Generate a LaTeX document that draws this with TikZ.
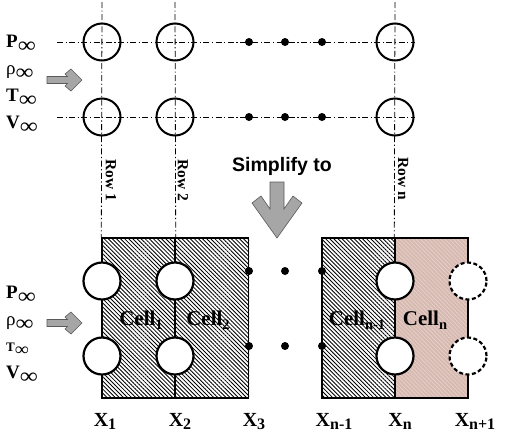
\documentclass[tikz,border=0pt]{standalone}
\usepackage{fontspec}
\usepackage{graphicx}
\setmainfont{Liberation Serif}
\newfontfamily\arialf{Liberation Sans}
\usetikzlibrary{patterns.meta}
\definecolor{pinkc}{RGB}{214,185,177}
\definecolor{pinkl}{RGB}{228,206,199}
\definecolor{arrowg}{RGB}{166,166,166}
\definecolor{arrowe}{RGB}{90,90,90}
\newcommand\fs[1]{\fontsize{#1}{#1}\selectfont}
\newcommand\sinf{\raisebox{-5.5pt}{\mdseries\fs{22}\scalebox{1.15}[1]{∞}}}
\newcommand\ssinf{\raisebox{-4.5pt}{\mdseries\fs{18}\scalebox{1.1}[1]{∞}}}
\newcommand\bsub[1]{\raisebox{-3.5pt}{\fs{16}#1}}
\newcommand\csub[1]{\raisebox{-4pt}{\fs{14.5}#1}}
\begin{document}
\begin{tikzpicture}[x=1pt,y=-1pt,
  dashdot/.style={line width=0.8pt, dash pattern=on 6pt off 2.5pt on 1.2pt off 2.5pt},
  topcirc/.style={circle, draw, line width=2pt, minimum size=37pt, inner sep=0pt},
  botcirc/.style={circle, draw, fill=white, line width=2.2pt, minimum size=37pt, inner sep=0pt},
  ghostcirc/.style={botcirc, dash pattern=on 4pt off 2.5pt},
  dotn/.style={circle, fill=black, minimum size=8pt, inner sep=0pt},
  lbl/.style={anchor=base west, inner sep=0pt, font=\bfseries\fs{19}},
  cellt/.style={anchor=base, inner sep=0pt, font=\bfseries\fs{21}},
  xt/.style={anchor=base, inner sep=0pt, font=\bfseries\fs{20}},
  rowt/.style={rotate=-90, inner sep=0pt, font=\bfseries\fs{15.5}},
  hatch/.style={pattern={Lines[angle=-45,distance=2.9pt,line width=0.85pt]}},
  cellbox/.style={rectangle, draw, line width=1.4pt, minimum width=73pt, minimum height=160pt, inner sep=0pt},
  fatarrow/.style={fill=arrowg, draw=arrowe, line width=0.6pt, line join=miter}
]
\useasboundingbox (0,0) rectangle (505,434);
\fill[white] (0,0) rectangle (505,434);

% ---------- top part ----------
\coordinate (h1a) at (57,42);  \coordinate (h1b) at (415,42);
\coordinate (h2a) at (57,117); \coordinate (h2b) at (415,117);
\coordinate (v1t) at (102,2); \coordinate (v2t) at (175,2); \coordinate (vnt) at (395,2);

% ---------- bottom boxes ----------
\path[hatch] (102,238) rectangle (249,398);
\path[hatch] (322,238) rectangle (395,398);
\fill[pinkc] (395,238) rectangle (468,398);
\path[pattern={Lines[angle=-45,distance=2.9pt,line width=0.85pt]}, pattern color=pinkl] (395,238) rectangle (468,398);
\node[cellbox] (c1) at (138.5,318) {};
\node[cellbox] (c2) at (212,318) {};
\node[cellbox] (cm) at (358.5,318) {};
\node[cellbox] (cn) at (431.5,318) {};

\draw[dashdot] (h1a) -- (h1b);
\draw[dashdot] (h2a) -- (h2b);
\draw[dashdot] (v1t) -- (c1.north west);
\draw[dashdot] (v2t) -- (c1.north east);
\draw[dashdot] (vnt) -- (cn.north west);

\node[topcirc] (t11) at (102,42) {};
\node[topcirc] (t12) at (102,117) {};
\node[topcirc] (t21) at (175,42) {};
\node[topcirc] (t22) at (175,117) {};
\node[topcirc] (tn1) at (395,42) {};
\node[topcirc] (tn2) at (395,117) {};

\node[dotn] (d11) at (249,42) {};
\node[dotn] (d12) at (285,42) {};
\node[dotn] (d13) at (322,42) {};
\node[dotn] (d21) at (249,117) {};
\node[dotn] (d22) at (285,117) {};
\node[dotn] (d23) at (322,117) {};

\node[lbl] (tp) at (6,47) {P\sinf};
\node[lbl] (tr) at (6,74) {\mdseries ρ\sinf};
\node[lbl] (tt) at (6,101) {T\sinf};
\node[lbl] (tv) at (6,128) {V\sinf};

\node[rowt] (r1) at (111,180) {Row 1};
\node[rowt] (r2) at (183,180) {Row 2};
\node[rowt] (rn) at (403,179) {Row n};

\node[font=\arialf\bfseries\fs{19.5}, anchor=base, inner sep=0pt] (simp) at (282,171) {Simplify to};

% small arrows
\draw[fatarrow] (47,76.5) -- (67.5,76.5) -- (65,74) -- (71,69) -- (82,80) -- (71,91) -- (65,86) -- (67.5,83.5) -- (47,83.5) -- cycle;
\draw[fatarrow] (47,319.5) -- (67.5,319.5) -- (65,317) -- (71,312) -- (82,323) -- (71,334) -- (65,329) -- (67.5,326.5) -- (47,326.5) -- cycle;
% big arrow
\draw[fatarrow] (270,182) -- (284,182) -- (284,209) -- (293,196) -- (302,203) -- (277,238) -- (252,203) -- (261,196) -- (270,209) -- cycle;

% ---------- bottom part ----------
\node[botcirc] (b11) at (102,281) {};
\node[botcirc] (b12) at (102,356) {};
\node[botcirc] (b21) at (175,281) {};
\node[botcirc] (b22) at (175,356) {};
\node[botcirc] (bn1) at (395,281) {};
\node[botcirc] (bn2) at (395,356) {};
\node[ghostcirc] (g1) at (468,281) {};
\node[ghostcirc] (g2) at (468,356) {};

\node[dotn] (e11) at (249,271) {};
\node[dotn] (e12) at (285,271) {};
\node[dotn] (e13) at (322,271) {};
\node[dotn] (e21) at (249,346) {};
\node[dotn] (e22) at (285,346) {};
\node[dotn] (e23) at (322,346) {};

\node[lbl] (bp) at (6,298) {P\sinf};
\node[lbl] (br) at (6,325) {\mdseries ρ\sinf};
\node[lbl] (bt) at (6,351) {\fs{13}T\ssinf};
\node[lbl] (bv) at (6,378) {V\sinf};

\node[cellt] (l1) at (141,325) {Cell\csub{1}};
\node[cellt] (l2) at (208,325) {Cell\csub{2}};
\node[cellt] (lm) at (357,325) {Cell\csub{n-1}};
\node[cellt] (ln) at (425,325) {Cell\csub{n}};

\node[xt] (x1) at (105,426) {X\bsub{1}};
\node[xt] (x2) at (180,426) {X\bsub{2}};
\node[xt] (x3) at (254,426) {X\bsub{3}};
\node[xt] (xm) at (334,426) {X\bsub{n-1}};
\node[xt] (xn) at (400,426) {X\bsub{n}};
\node[xt] (xp) at (475,426) {X\bsub{n+1}};
\end{tikzpicture}
\end{document}
